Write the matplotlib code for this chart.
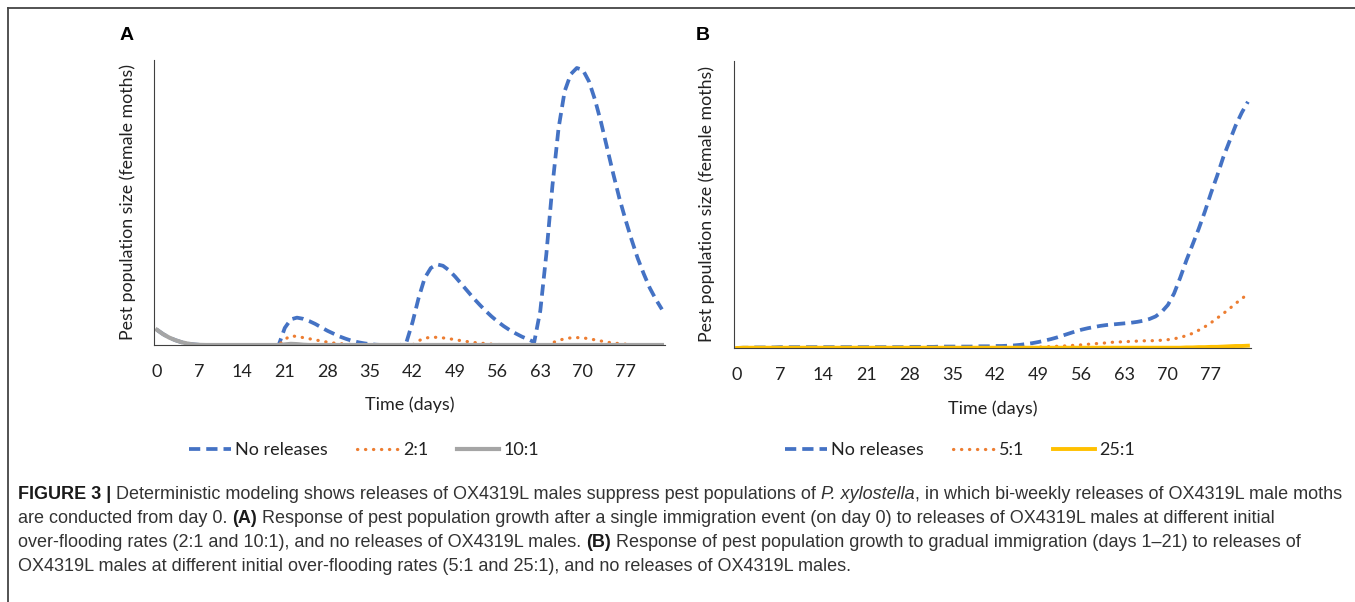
import matplotlib
matplotlib.use("Agg")
import matplotlib.pyplot as plt
from matplotlib.lines import Line2D

# ---- data (arbitrary population units) ----
days = list(range(84))
tick_days = [0, 7, 14, 21, 28, 35, 42, 49, 56, 63, 70, 77]

# Panel A: single immigration event on day 0
no_release_a = [53, 38, 26, 17, 10, 5, 2, 0.5, 0, 0,
                0, 0, 0, 0, 0, 0, 0, 0, 0, 0,
                0, 60, 90, 96, 92, 84, 74, 62, 50, 40,
                30, 22, 15, 10, 6, 3, 1, 0, 0, 0,
                0, 10, 80, 165, 235, 270, 283, 278, 262, 240,
                215, 190, 165, 142, 120, 100, 82, 66, 52, 40,
                29, 20, 10, 120, 320, 560, 760, 890, 950, 972,
                965, 925, 860, 780, 690, 600, 515, 440, 370, 305,
                250, 200, 160, 125]
rate_2_1 = [53, 38, 26, 17, 10, 5, 2, 0.5, 0, 0,
            0, 0, 0, 0, 0, 0, 0, 0, 0, 0,
            0, 20, 32, 30, 26, 22, 18, 14, 10, 7,
            5, 3, 2, 1, 0, 0, 0, 0, 0, 0,
            0, 0, 0, 15, 24, 27, 27, 25, 22, 19,
            15, 12, 9, 7, 5, 3, 2, 1, 0, 0,
            0, 0, 0, 0, 0, 8, 16, 22, 25, 26,
            25, 22, 18, 14, 10, 7, 5, 3, 1, 0,
            0, 0, 0, 0]
rate_10_1 = [53, 38, 26, 17, 10, 5, 2, 0.5, 0, 0,
             0, 0, 0, 0, 0, 0, 0, 0, 0, 0,
             0, 2, 4, 3, 1, 0, 0, 0, 0, 0,
             0, 0, 0, 0, 0, 0, 0, 0, 0, 0,
             0, 0, 0, 0, 0, 0, 0, 0, 0, 0,
             0, 0, 0, 0, 0, 0, 0, 0, 0, 0,
             0, 0, 0, 0, 0, 0, 0, 0, 0, 0,
             0, 0, 0, 0, 0, 0, 0, 0, 0, 0,
             0, 0, 0, 0]

# Panel B: gradual immigration (days 1-21)
no_release_b = [0, 1, 1, 2, 2, 2, 2, 3, 3, 3,
                3, 3, 3, 3, 3, 3, 3, 3, 3, 3,
                3, 3, 3, 3, 3, 3, 3, 3, 4, 4,
                4, 4, 4, 5, 5, 5, 5, 5, 5, 6,
                6, 6, 7, 7, 8, 9, 11, 14, 17, 21,
                26, 31, 37, 44, 51, 58, 64, 69, 73, 77,
                80, 82, 84, 86, 88, 91, 95, 101, 110, 126,
                150, 190, 245, 305, 360, 415, 475, 540, 600, 665,
                720, 775, 820, 858]
rate_5_1 = [0, 1, 1, 1, 1, 1, 1, 1, 1, 1,
            1, 1, 1, 1, 1, 1, 1, 1, 1, 1,
            1, 1, 1, 1, 1, 1, 1, 1, 1, 1,
            1, 1, 1, 1, 1, 1, 1, 1, 1, 1,
            1, 1, 1, 1, 1, 2, 2, 2, 2, 3,
            4, 5, 6, 7, 8, 10, 11, 13, 15, 16,
            18, 20, 21, 22, 23, 24, 25, 25, 26, 27,
            29, 32, 37, 43, 51, 62, 74, 88, 104, 120,
            137, 155, 172, 188]
rate_25_1 = [0, 1, 1, 1, 1, 1, 1, 1, 1, 1,
             1, 1, 1, 1, 1, 1, 1, 1, 1, 1,
             1, 1, 1, 1, 1, 1, 1, 1, 1, 1,
             1, 1, 1, 1, 1, 1, 1, 1, 1, 1,
             1, 1, 1, 1, 1, 1, 1, 1, 1, 1,
             1, 1, 1, 1, 1, 1, 1, 1, 1, 1,
             1, 1, 1, 1, 1, 1, 1, 1, 1, 1,
             1, 1, 1, 2, 2, 3, 3, 4, 4, 5,
             6, 7, 7, 8]

BLUE = "#4472C4"
ORANGE = "#ED7D31"
GRAY = "#A5A5A5"
YELLOW = "#FFC000"
TXT = "#222222"
CHART_FONT = ["Lato", "DejaVu Sans"]

W, H = 1355, 602
fig = plt.figure(figsize=(W / 100, H / 100), dpi=100)


def px_axes(left, top, right, bottom):
    return fig.add_axes([left / W, 1 - bottom / H, (right - left) / W, (bottom - top) / H])


def style_axes(ax):
    ax.set_xlim(-0.5, 83.5)
    ax.set_ylim(0, 1000)
    ax.set_xticks(tick_days)
    ax.set_xticklabels([str(d) for d in tick_days], fontsize=13, family=CHART_FONT, color=TXT)
    ax.set_yticks([])
    ax.tick_params(axis="x", length=0, pad=14)
    for s in ["top", "right"]:
        ax.spines[s].set_visible(False)
    ax.spines["left"].set_color("#404040")
    ax.spines["bottom"].set_color("#404040")
    ax.set_xlabel("Time (days)", fontsize=13, family=CHART_FONT, color=TXT)
    ax.xaxis.set_label_coords(0.5, -0.21)
    ax.xaxis.label.set_va("center")
    ax.set_ylabel("Pest population size (female moths)", fontsize=12.8, family=CHART_FONT, color=TXT)
    ax.yaxis.set_label_coords(-0.052, 0.5)
    ax.yaxis.label.set_va("center")


dash_style = dict(linestyle=(0, (3, 1.6)), linewidth=2.7)
dot_style = dict(linestyle=(0, (0.1, 2.4)), linewidth=2.3, dash_capstyle="round")

# ---- panel A ----
ax1 = px_axes(154, 60, 665, 345)
ax1.plot(days, no_release_a, color=BLUE, label="No releases", **dash_style)
ax1.plot(days, rate_2_1, color=ORANGE, label="2:1", **dot_style)
ax1.plot(days, rate_10_1, color=GRAY, linewidth=3, label="10:1")
style_axes(ax1)

# ---- panel B ----
ax2 = px_axes(734, 61, 1251, 348)
ax2.plot(days, no_release_b, color=BLUE, label="No releases", **dash_style)
ax2.plot(days, rate_5_1, color=ORANGE, label="5:1", **dot_style)
ax2.plot(days, rate_25_1, color=YELLOW, linewidth=2.8, label="25:1")
style_axes(ax2)

for ax, cx in [(ax1, 364), (ax2, 960)]:
    ax.legend(loc="center", bbox_to_anchor=(cx / W, 1 - 450 / H), bbox_transform=fig.transFigure,
              ncol=3, frameon=False, handlelength=2.3, handletextpad=0.25, columnspacing=1.6,
              prop={"family": CHART_FONT, "size": 13}, labelcolor=TXT)

fig.text(127 / W, 1 - 36 / H, "A", fontsize=14, fontweight="bold", family="Liberation Sans",
         ha="center", va="center", color="black")
fig.text(703 / W, 1 - 36 / H, "B", fontsize=14, fontweight="bold", family="Liberation Sans",
         ha="center", va="center", color="black")

# frame lines (top and left)
fig.add_artist(Line2D([8 / W, 1], [1 - 8 / H, 1 - 8 / H], transform=fig.transFigure, color="#444444", lw=1.3))
fig.add_artist(Line2D([8 / W, 8 / W], [0, 1 - 8 / H], transform=fig.transFigure, color="#444444", lw=1.3))

# ---- caption ----
caption = [
    [("FIGURE 3 |", "bold", "normal"),
     (" Deterministic modeling shows releases of OX4319L males suppress pest populations of ", "normal", "normal"),
     ("P. xylostella", "normal", "italic"),
     (", in which bi-weekly releases of OX4319L male moths", "normal", "normal")],
    [("are conducted from day 0. ", "normal", "normal"),
     ("(A)", "bold", "normal"),
     (" Response of pest population growth after a single immigration event (on day 0) to releases of OX4319L males at different initial",
      "normal", "normal")],
    [("over-flooding rates (2:1 and 10:1), and no releases of OX4319L males. ", "normal", "normal"),
     ("(B)", "bold", "normal"),
     (" Response of pest population growth to gradual immigration (days 1\u201321) to releases of", "normal", "normal")],
    [("OX4319L males at different initial over-flooding rates (5:1 and 25:1), and no releases of OX4319L males.",
      "normal", "normal")],
]
CAP_FONT = "Liberation Sans"
renderer = fig.canvas.get_renderer()


def text_width(s, size, weight="normal", style="normal"):
    t = fig.text(0, 0, s, fontsize=size, fontweight=weight, fontstyle=style, family=CAP_FONT)
    w = t.get_window_extent(renderer).width
    t.remove()
    return w


# fit the first line to the width used in the figure
first = "".join(r[0] for r in caption[0])
cap_size = 10 * (1322 / text_width(first, 10))

space_w = {}
for wt in ["normal", "bold"]:
    space_w[wt] = text_width("x x", cap_size, wt) - text_width("xx", cap_size, wt)

baselines = [499, 523, 547, 571]
for runs, base in zip(caption, baselines):
    x = 18
    for s, wt, st in runs:
        lead = len(s) - len(s.lstrip(" "))
        trail = len(s) - len(s.rstrip(" "))
        x += lead * space_w[wt]
        core = s.strip(" ")
        t = fig.text(x / W, 1 - base / H, core, fontsize=cap_size, fontweight=wt, fontstyle=st,
                     family=CAP_FONT, color="#1a1a1a" if wt == "bold" else "#333333", va="baseline")
        x += t.get_window_extent(renderer).width + trail * space_w[wt]

fig.savefig("out.png", dpi=100)
